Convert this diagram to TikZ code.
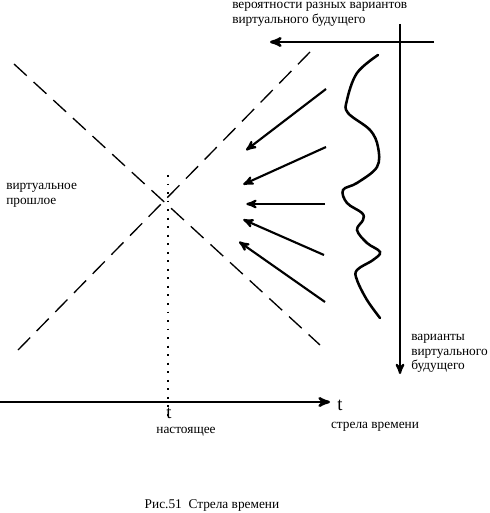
\documentclass[tikz,border=0pt]{standalone}
\usepackage{fontspec}
\setmainfont{Liberation Serif}
\usetikzlibrary{arrows}

\begin{document}
\begin{tikzpicture}[x=0.75pt,y=-0.75pt,>=stealth',
  label text/.style={font=\fontsize{10}{11}\selectfont,align=left,inner sep=0pt},
  axis line/.style={->,line width=1.9pt},
  future arrow/.style={->,line width=1.6pt,shorten >=1pt},
  cone line/.style={line width=1pt,dash pattern=on 13pt off 7pt}]

  \useasboundingbox (0,0) rectangle (489,513);

  % light cone
  \coordinate (c1a) at (14,64);
  \coordinate (c1b) at (320,345);
  \coordinate (c2a) at (18,350);
  \coordinate (c2b) at (310,52);
  \draw[cone line] (c1a) -- (c1b);
  \draw[cone line] (c2a) -- (c2b);

  % time axis and present moment
  \coordinate (t0) at (0,402);
  \coordinate (t1) at (330,402);
  \draw[axis line] (t0) -- (t1);
  \coordinate (now top) at (168,175);
  \coordinate (now bot) at (168,418);
  \draw[line width=1.4pt,dash pattern=on 1.4pt off 5pt] (now top) -- (now bot);

  \node[font=\fontsize{14}{14}\selectfont] (t) at (340,405) {t};
  \node[font=\fontsize{14}{14}\selectfont] (tnow) at (169,413) {t};
  \node[label text] (now) at (186,432) {настоящее};
  \node[label text] (arrow) at (375,427) {стрела времени};
  \node[label text,anchor=north west] (past) at (6,183) {виртуальное\\прошлое};

  % future axes
  \coordinate (h0) at (434,42);
  \coordinate (h1) at (270,42);
  \coordinate (v0) at (400,24);
  \coordinate (v1) at (400,374);
  \draw[axis line] (h0) -- (h1);
  \draw[axis line,line width=1.6pt] (v0) -- (v1);
  \node[label text,anchor=north west] (prob) at (232,2) {вероятности разных вариантов\\виртуального будущего};
  \node[label text,anchor=north west] (var) at (411,334) {варианты\\виртуального\\будущего};

  % arrows from the future
  \foreach \sx/\sy/\ex/\ey [count=\i] in {326/89/245/151, 326/147/242/185,
      325/204/245/204, 324/255/242/219, 325/302/238/241} {
    \coordinate (s\i) at (\sx,\sy);
    \coordinate (e\i) at (\ex,\ey);
    \draw[future arrow] (s\i) -- (e\i);
  }

  % curve of variants
  \draw[line width=1.9pt,line cap=round] plot[smooth,tension=0.6] coordinates {
    (378,55) (357,73) (347,100) (348,113) (370,130) (378,147) (377,167)
    (357,183) (343,190) (347,203) (362,213) (363,220) (357,230) (367,243)
    (380,252) (373,260) (357,270) (357,280) (367,300) (380,318)};

  \node[label text] (cap) at (212,505) {Рис.51\enspace Стрела времени};
\end{tikzpicture}
\end{document}
